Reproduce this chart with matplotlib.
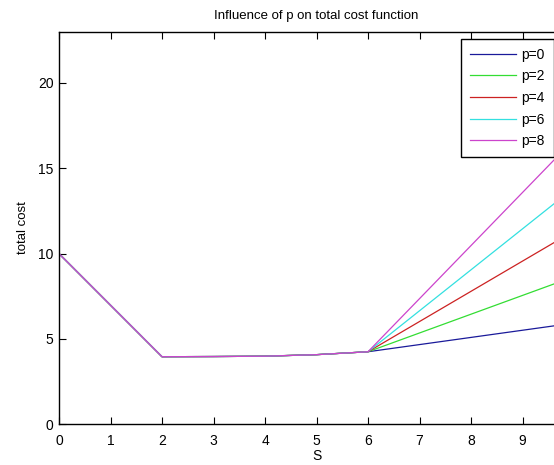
import matplotlib
matplotlib.use('Agg')
import matplotlib.pyplot as plt

plt.rcParams['font.family'] = ['Liberation Sans', 'DejaVu Sans']

# shared part of the curve (same for every p)
S_base = [0, 2, 3, 4, 5, 6]
cost_base = [10.0, 3.96, 3.97, 3.99, 4.08, 4.25]
# end of each branch
S_end = 10
p_values = [0, 2, 4, 6, 8]
cost_end = [5.93, 8.65, 11.33, 13.85, 16.69]
colors = ['#1a1a9a', '#33dd33', '#cc2222', '#33e0e0', '#cc44cc']

fig = plt.figure(figsize=(5.54, 4.65), dpi=100)
# axes run past the right edge of the picture (cropped like the original)
ax = fig.add_axes([59/554, 40.7/465, 515/554, 392.6/465])

for p, yend, c in zip(p_values, cost_end, colors):
    ax.plot(S_base + [S_end], cost_base + [yend], color=c, linewidth=0.9, label='p=%d' % p)

ax.set_xlim(0, 10)
ax.set_ylim(0, 23)
ax.set_xticks(range(0, 10))
ax.set_yticks([0, 5, 10, 15, 20])
ax.tick_params(direction='in', top=True, right=True, length=5, width=0.8, labelsize=10)
ax.tick_params(axis='x', pad=7)
ax.tick_params(axis='y', pad=4)
for s in ax.spines.values():
    s.set_linewidth(1.0)

ax.set_title('Influence of p on total cost function', fontsize=9.5, pad=9)
ax.set_xlabel('S', fontsize=10, labelpad=1)
ax.set_ylabel('total cost', fontsize=9.5, labelpad=6)

leg = ax.legend(loc='upper right', bbox_to_anchor=(553.5/554, 1 - 39.3/465),
                bbox_transform=fig.transFigure, borderaxespad=0, fontsize=10,
                handlelength=3.35, handletextpad=0.4, labelspacing=0.55,
                borderpad=0.6, fancybox=False, framealpha=1)
leg.get_frame().set_edgecolor('black')
leg.get_frame().set_linewidth(1.0)

plt.savefig('out.png', dpi=100)
